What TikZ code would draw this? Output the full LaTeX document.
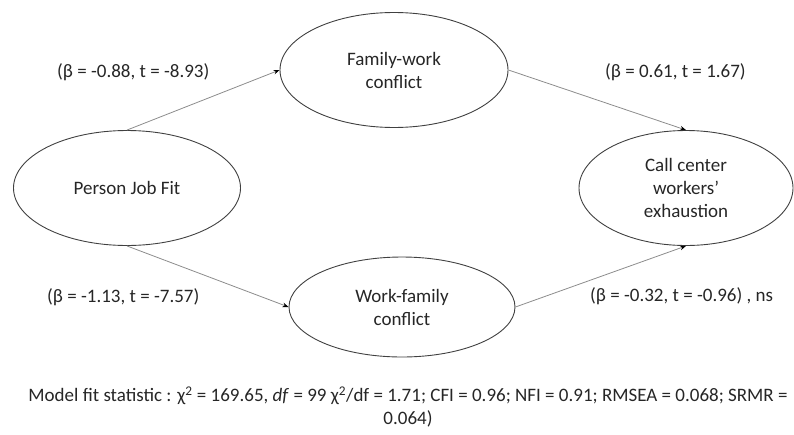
\documentclass[tikz,border=0pt]{standalone}
\usepackage{fontspec}
\setmainfont{Carlito}
\usetikzlibrary{shapes.geometric,arrows.meta}
\tikzset{
	latent/.style={ellipse,draw=black!75,line width=0.9pt,inner sep=0pt,align=center},
	path/.style={-{Stealth[black,length=6pt,width=4.5pt]},draw=black!45,line width=0.8pt},
	coef/.style={anchor=west,inner sep=0pt}
}
\begin{document}
\begin{tikzpicture}[x=1pt,y=-1pt,font=\fontsize{19}{23}\selectfont,text=black!85]
		\useasboundingbox (0,0) rectangle (794,434);
		\node[latent,minimum width=227,minimum height=115] (pjf) at (127,188) {Person Job Fit};
		\node[latent,minimum width=228,minimum height=115] (fwc) at (394,70) {Family-work\\conflict};
		\node[latent,minimum width=226,minimum height=100] (wfc) at (402,307) {Work-family\\conflict};
		\node[latent,minimum width=214,minimum height=115] (cce) at (686,188) {Call center\\workers’\\exhaustion};
		\draw[path] (pjf.north) -- (fwc.west);
		\draw[path] (pjf.south) -- (wfc.west);
		\draw[path] (fwc.east) -- (cce.north);
		\draw[path] (wfc.east) -- (cce.south);
		\node[coef] (b1) at (57,72) {(β = -0.88, t = -8.93)};
		\node[coef] (b2) at (47,297) {(β = -1.13, t = -7.57)};
		\node[coef] (b3) at (605,72) {(β = 0.61, t = 1.67)};
		\node[coef] (b4) at (590,296) {(β = -0.32, t = -0.96) , ns};
		\node[align=center,inner sep=0pt] (fit) at (408,407) {Model fit statistic : χ\textsuperscript{2} = 169.65, \textit{df} = 99 χ\textsuperscript{2}/df = 1.71; CFI = 0.96; NFI = 0.91; RMSEA = 0.068; SRMR =\\0.064)};
\end{tikzpicture}
\end{document}
